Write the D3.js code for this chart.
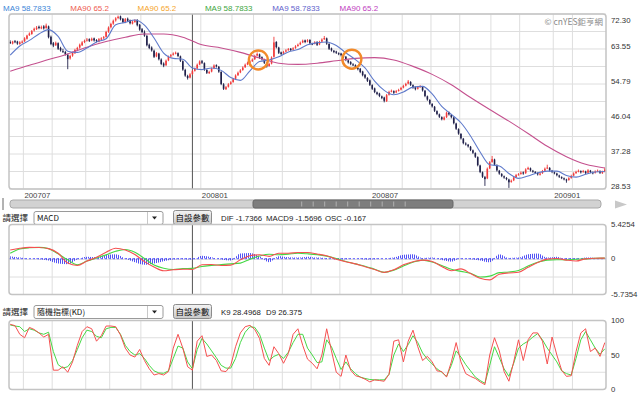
<!DOCTYPE html>
<html>
<head>
<meta charset="UTF-8">
<title></title>
<style>
  body { margin: 0; background: #fff; }
  svg { display: block; font-family: "Liberation Sans", Arial, sans-serif; }
  .cjk { font-family: "Noto Sans CJK TC", "Noto Sans CJK SC", sans-serif; }
</style>
</head>
<body>
<svg id="chart" width="640" height="397"></svg>
<script src="https://cdn.jsdelivr.net/npm/d3@7/dist/d3.min.js"></script>
<script>
// ---------- data ----------
var open = [
  65.3,64.9,65.5,65.4,64.8,65.1,65.5,66.1,67.0,67.3, 68.2,68.5,69.1,68.7,69.2,68.8,69.2,66.6,65.0,64.5,
  65.0,63.8,63.0,62.8,62.1,61.2,61.9,62.5,63.4,63.9, 64.5,65.3,65.7,66.0,65.7,66.2,65.8,65.4,65.9,66.3,
  66.6,67.9,69.0,69.9,70.7,71.3,71.7,71.1,70.2,71.1, 70.7,69.9,70.3,70.8,69.6,68.5,67.7,66.8,64.6,63.9,
  63.1,61.7,62.4,60.9,59.9,59.5,60.7,61.7,62.1,62.5, 62.5,61.7,60.5,58.3,56.8,56.4,57.3,58.1,58.7,59.7,
  60.5,60.0,58.3,57.5,57.9,58.7,59.5,59.1,57.8,54.7, 53.5,54.1,54.8,55.3,56.1,57.0,57.7,58.3,59.0,59.7,
  60.2,60.5,61.0,61.9,62.2,61.5,60.9,60.0,59.3,59.9, 61.6,65.3,63.9,62.7,62.4,62.9,63.3,63.6,63.4,63.8,
  64.3,64.7,65.2,65.7,65.4,65.8,64.9,64.9,65.3,64.7, 65.4,66.0,66.2,64.8,63.7,63.1,62.9,62.5,62.4,61.9,
  61.6,60.7,60.3,59.7,59.5,58.8,58.6,57.9,57.1,56.3, 55.7,54.5,53.7,52.7,52.4,51.7,51.4,50.5,52.1,52.9,
  53.0,52.7,53.1,53.4,53.9,54.4,54.9,55.3,54.5,54.0, 53.6,54.1,54.1,53.1,51.7,50.8,49.8,49.1,48.0,47.2,
  46.5,45.9,46.5,47.7,47.1,46.4,44.9,43.5,42.3,41.1, 39.9,39.6,39.1,38.2,37.5,36.5,34.4,32.7,31.5,31.2,
  33.7,35.3,35.9,34.5,33.1,32.3,31.7,31.3,30.9,30.3, 30.7,31.5,32.1,32.3,32.7,32.5,33.5,33.7,33.1,32.8,
  32.5,32.1,32.5,33.1,33.7,33.8,33.1,32.7,32.4,31.9, 31.5,31.2,30.9,30.8,31.3,31.9,32.5,32.9,33.0,32.8,
  32.9,32.6,33.1,32.7,32.6,33.0,33.0,32.5,32.9
];
var high = [
  65.7,65.6,65.8,65.6,65.5,65.7,66.5,67.1,67.7,68.3, 68.9,69.3,69.4,69.4,69.5,69.9,69.4,66.9,65.3,65.4,
  65.2,64.1,63.6,63.1,62.4,62.1,62.9,63.6,64.1,64.9, 65.5,65.9,66.3,66.2,66.4,66.4,66.0,66.3,66.5,66.8,
  68.1,69.2,70.1,70.9,71.5,71.9,71.9,71.3,71.3,71.4, 70.9,70.7,71.0,71.0,69.8,68.8,68.2,67.1,64.9,64.2,
  63.4,62.8,62.6,61.2,60.2,60.9,61.9,62.3,62.7,62.9, 62.7,61.9,60.7,58.6,57.1,57.5,58.3,58.9,59.9,60.7,
  60.8,60.2,58.5,58.1,58.9,59.7,59.7,59.3,58.0,55.0, 54.3,55.0,55.5,56.3,57.2,57.9,58.5,59.2,59.9,60.4,
  60.7,61.2,62.1,62.7,62.4,61.7,61.1,60.2,60.1,61.7, 66.6,65.5,64.1,62.9,63.1,63.5,63.8,63.8,64.0,64.5,
  64.9,65.4,65.9,65.9,66.0,66.0,65.1,65.5,65.5,65.6, 66.2,66.8,66.4,65.0,63.9,63.3,63.1,62.7,62.6,62.1,
  61.8,60.9,60.5,60.0,59.7,59.0,58.8,58.1,57.3,56.5, 55.9,54.7,53.9,52.9,52.6,51.9,51.6,52.3,53.1,53.4,
  53.2,53.3,53.6,54.1,54.6,55.1,55.8,55.5,54.7,54.2, 54.3,54.5,54.3,53.3,51.9,51.0,50.0,49.3,48.2,47.4,
  46.7,46.7,47.9,47.9,47.3,46.6,45.1,43.7,42.5,41.3, 40.2,39.8,39.3,38.4,37.7,36.7,34.6,32.9,31.8,33.9,
  35.5,36.8,36.1,34.7,33.3,32.5,31.9,31.5,31.1,30.9, 31.7,32.3,32.5,32.9,32.9,33.7,34.1,33.9,33.3,33.0,
  32.7,32.7,33.3,33.9,34.6,34.0,33.3,32.9,32.6,32.1, 31.7,31.4,31.1,31.5,32.1,32.7,33.1,33.4,33.2,33.3,
  33.1,33.5,33.3,32.9,33.2,33.4,33.2,33.1,33.9
];
var low = [
  64.8,64.7,65.0,64.6,64.6,64.9,65.3,65.9,66.8,67.1, 67.9,68.3,68.5,68.5,68.4,68.6,66.2,64.5,64.0,64.3,
  63.3,62.9,62.6,61.9,58.5,60.9,61.6,62.3,63.1,63.6, 64.3,65.0,65.4,65.3,65.5,65.4,65.2,65.2,65.7,66.0,
  66.4,67.6,68.7,69.6,70.4,71.0,70.7,70.0,70.0,70.3, 69.7,69.7,70.1,69.2,68.1,67.5,66.6,64.2,63.5,62.9,
  61.3,61.5,60.7,59.5,59.0,59.3,60.5,61.4,61.9,62.2, 61.5,60.3,58.1,56.6,55.9,56.2,57.1,57.9,58.5,59.5,
  59.8,58.1,57.3,57.3,57.7,58.5,58.9,57.6,54.5,53.3, 53.3,53.9,54.6,55.1,55.9,56.8,57.5,58.1,58.8,59.5,
  60.0,60.3,60.8,61.7,61.1,60.7,59.8,58.9,59.1,59.7, 61.4,63.7,62.3,62.0,62.2,62.7,63.1,63.0,63.2,63.6,
  64.1,64.5,65.0,65.0,65.2,64.7,64.5,64.7,64.3,64.5, 65.2,65.8,64.6,63.3,62.9,62.5,62.3,62.0,61.7,61.2,
  60.5,59.9,59.5,59.3,58.6,58.2,57.5,56.7,56.1,55.3, 54.3,53.3,52.5,52.0,51.5,51.0,50.2,50.3,51.9,52.7,
  52.3,52.5,52.9,53.2,53.7,54.2,54.7,54.3,53.6,53.2, 53.4,53.9,52.9,51.5,50.6,49.6,48.9,47.8,47.0,46.3,
  45.7,45.7,46.3,46.9,46.2,44.7,43.3,42.1,40.9,39.7, 39.4,38.9,38.0,37.3,36.3,34.2,32.5,31.3,29.3,31.0,
  33.5,35.1,34.3,32.9,32.1,31.5,31.1,30.7,28.8,30.1, 30.5,31.3,31.9,32.1,32.1,32.3,33.3,32.9,32.6,32.3,
  31.9,31.9,32.3,32.9,33.5,32.9,32.5,32.2,31.7,31.3, 31.0,30.7,30.1,30.6,31.1,31.7,32.3,32.7,32.4,32.6,
  32.2,32.4,32.5,32.2,32.4,32.8,32.3,32.3,32.7
];
var close = [
  65.0,65.4,65.3,64.9,65.2,65.4,66.2,66.9,67.4,68.0, 68.6,68.9,68.8,69.0,68.7,69.4,66.5,64.8,64.4,65.1,
  63.6,63.2,62.9,62.2,61.0,61.8,62.6,63.3,63.8,64.6, 65.2,65.6,65.9,65.6,66.1,65.7,65.5,66.0,66.2,66.5,
  67.8,68.9,69.8,70.6,71.2,71.6,71.0,70.3,71.0,70.6, 70.0,70.4,70.7,69.5,68.4,67.8,66.9,64.5,63.8,63.2,
  61.6,62.5,61.0,59.8,59.4,60.6,61.6,62.0,62.4,62.6, 61.8,60.6,58.4,56.9,56.3,57.2,58.0,58.6,59.6,60.4,
  60.1,58.4,57.6,57.8,58.6,59.4,59.2,57.9,54.8,53.6, 54.0,54.7,55.2,56.0,56.9,57.6,58.2,58.9,59.6,60.1,
  60.4,60.9,61.8,62.3,61.4,61.0,60.1,59.2,59.8,61.4, 65.2,64.0,62.6,62.3,62.8,63.2,63.5,63.3,63.7,64.2,
  64.6,65.1,65.6,65.3,65.7,65.0,64.8,65.2,64.6,65.3, 65.9,66.3,64.9,63.6,63.2,62.8,62.6,62.3,62.0,61.5,
  60.8,60.2,59.8,59.6,58.9,58.5,57.8,57.0,56.4,55.6, 54.6,53.6,52.8,52.3,51.8,51.3,50.6,52.0,52.8,53.1,
  52.6,53.0,53.3,53.8,54.3,54.8,55.4,54.6,53.9,53.5, 54.0,54.2,53.2,51.8,50.9,49.9,49.2,48.1,47.3,46.6,
  46.0,46.4,47.6,47.2,46.5,45.0,43.6,42.4,41.2,40.0, 39.7,39.2,38.3,37.6,36.6,34.5,32.8,31.6,31.0,33.6,
  35.2,36.0,34.6,33.2,32.4,31.8,31.4,31.0,30.2,30.6, 31.4,32.0,32.2,32.6,32.4,33.4,33.8,33.2,32.9,32.6,
  32.2,32.4,33.0,33.6,33.9,33.2,32.8,32.5,32.0,31.6, 31.3,31.0,30.7,31.2,31.8,32.4,32.8,33.1,32.7,33.0,
  32.5,33.2,32.8,32.5,32.9,33.1,32.6,32.8,33.4
];

// MA9: one value every 4 bars
var ma9 = [
  62.0,64.3,65.7,67.3,68.4,66.7,63.0,62.7,63.8,65.3, 66.1,69.6,70.2,70.8,69.5,66.3,62.5,61.2,61.0,58.8,
  58.4,58.8,58.2,56.4,55.7,58.1,60.4,60.8,61.6,62.8, 63.4,64.6,65.1,65.3,64.4,62.6,60.9,58.8,55.5,53.2,
  52.1,52.8,54.0,54.2,52.3,49.2,47.2,45.1,41.8,37.8, 34.6,34.3,32.4,31.2,31.8,32.6,33.0,33.0,31.9,31.5,
  32.2,32.8,32.9
];
// MA90: one value every 8 bars
var ma90 = [
  58.0,59.5,60.9,62.3,64.0,65.4,66.5,67.3,67.3,66.5, 64.6,63.8,62.7,61.3,60.0,59.7,60.0,60.6,61.2,61.4,
  60.8,59.2,57.2,54.6,51.4,48.4,45.5,42.4,39.2,36.6, 34.7,33.8
];

// MACD: one value every 4 bars
var dif = [
  1.37,1.64,1.78,1.75,1.58,0.85,-0.73,-1.10,-0.40,0.20, 1.00,1.64,1.35,0.65,-0.50,-1.35,-1.95,-1.80,-1.70,-1.74,
  -0.99,-0.95,-1.10,-1.05,-0.21,0.45,0.60,0.35,0.85,0.85, 0.95,0.95,0.72,0.43,-0.10,-0.50,-0.85,-1.30,-1.75,-2.20,
  -1.80,-1.00,-0.50,-0.25,-0.47,-1.26,-1.95,-1.65,-2.40,-3.15, -3.40,-2.50,-2.30,-2.20,-1.40,-0.65,-0.10,0.00,-0.25,-0.40,
  -0.05,0.05,0.06
];
var macd9 = [
  0.85,1.53,1.72,1.78,1.58,0.75,-0.21,-0.99,-0.40,0.10, 0.58,1.15,1.45,1.00,0.00,-1.05,-1.55,-1.75,-1.60,-1.57,
  -1.26,-1.10,-0.97,-0.85,-0.73,-0.10,0.40,0.68,0.60,0.70, 0.83,0.75,0.62,0.38,0.00,-0.47,-0.85,-1.22,-1.70,-2.20,
  -1.85,-1.20,-0.60,-0.25,-0.55,-1.10,-1.72,-2.05,-2.35,-2.95, -2.80,-2.25,-2.15,-1.90,-1.20,-0.60,-0.25,-0.20,-0.21,-0.12,
  -0.05,0.04,0.06
];
var osc = [
  0.35,0.15,0.0,-0.1,-0.3,-0.8,-0.9,-0.15,0.3,0.2, 0.6,0.7,0.0,-0.6,-1.0,-0.8,-0.45,-0.15,-0.1,-0.17,
  0.45,0.2,-0.15,-0.3,0.8,0.9,0.35,-0.6,0.35,0.2, 0.15,0.3,0.15,0.1,-0.15,-0.1,0.0,-0.15,-0.1,0.0,
  0.15,0.6,0.7,0.1,0.15,-0.25,-0.5,0.1,-0.1,-0.3, -0.6,0.7,0.1,0.15,0.7,0.8,0.15,0.3,-0.15,-0.15,
  0.15,0.1,0.03
];

// KD: one value every 2 bars
var kLine = [
  94.5,92.5,80,75,90,87,82,76,80,28, 28,33,25,40,64,84,91,88,70,78,
  92,92,91,79,60,50,47,58,42,30, 21,23,21,26,60,80,60,33,28,70,
  78,48,50,42,27,26,35,62,82,91, 93,87,74,45,35,62,52,38,52,80,
  88,64,44,38,30,50,88,56,25,19, 50,28,20,18,15,11,14,13,12,22,
  70,72,40,70,86,62,42,48,40,27, 26,18,40,68,40,23,19,16,11,7,
  50,75,56,26,12,40,72,42,72,82, 82,70,37,76,50,28,19,20,55,82,
  88,55,60,48,68
];
var dLine = [
  93.5,92,91,84,88,86,82,80,83,55, 36,31,33,42,58,75,86,84,77,75,
  88,90,90,80,64,55,50,52,45,35, 27,24,23.5,27,45,63,60,40,30,58,
  74,66,56,46,35,31,31,45,68,83, 91,90,80,60,42,48,51,45,54,68,
  80,80,60,50,39,40,72,62,45,29, 40,30,23,18,16,14.5,14,14,14,22,
  50,66,55,65,78,68,53,44,37,30, 25,19,35,56,47,36,27,18,13,9,
  35,62,46,30,19,38,60,66,70,76, 81,72,60,50,40,27,23,21,45,72,
  84,72,60,51,59
];

// months: bar index where each month starts
var monthStart = [6, 18, 32, 42, 55, 68, 80, 93, 102, 114, 126, 138, 151, 164, 176, 188, 201, 213, 227, 235];
var labelIdx = [6, 80, 151, 227];
var labelText = ["200707", "200801", "200807", "200901"];

var priceTicks = [28.53, 37.28, 46.04, 54.79, 63.55, 72.30];
var macdTicks = [5.4254, 0, -5.7354];
var kdTicks = [100, 50, 0];

var cursorIdx = 76;
var crossIdx = [103.5, 142.5];
var crossVal = [60.8, 61.0];

var legendText = ["MA9 58.7833", "MA90 65.2", "MA90 65.2", "MA9 58.7833", "MA9 58.7833", "MA90 65.2"];
var legendColor = ["#3d86d8", "#ee5b4f", "#f5a52a", "#3ea63e", "#6262cc", "#c03cc0"];

// ---------- drawing ----------
var svg = d3.select("#chart");
var upColor = "#f23a3a", downColor = "#20204a";

var x = d3.scaleLinear().domain([-0.5, close.length - 0.5]).range([9, 606]);
var yMain = d3.scaleLinear().domain([28.53, 72.30]).range([189, 14]);
var yMacd = d3.scaleLinear().domain([-5.7354, 5.4254]).range([294.5, 224.5]);
var yKd = d3.scaleLinear().domain([0, 100]).range([389.5, 320.5]);

var defs = svg.append("defs");
var hatch = defs.append("pattern").attr("id", "hatch").attr("patternUnits", "userSpaceOnUse")
  .attr("width", 2).attr("height", 2);
hatch.append("rect").attr("width", 1).attr("height", 2).attr("fill", "#3535f2");

var btnGrad = defs.append("linearGradient").attr("id", "btnGrad").attr("x1", 0).attr("y1", 0).attr("x2", 0).attr("y2", 1);
btnGrad.append("stop").attr("offset", "0%").attr("stop-color", "#f4f4f4");
btnGrad.append("stop").attr("offset", "100%").attr("stop-color", "#c9c9c9");

function panel(id, top, bottom, gridYs) {
  defs.append("clipPath").attr("id", id).append("rect")
    .attr("x", 9).attr("y", top).attr("width", 597).attr("height", bottom - top);
  var g = svg.append("g");
  g.append("rect").attr("x", 9).attr("y", top).attr("width", 597).attr("height", bottom - top)
    .attr("fill", "#fff");
  g.selectAll("line.h").data(gridYs).join("line")
    .attr("x1", 9).attr("x2", 606).attr("y1", d => d).attr("y2", d => d)
    .attr("stroke", "#dedede").attr("stroke-width", 1);
  g.selectAll("line.v").data(monthStart).join("line")
    .attr("x1", d => x(d - 0.5)).attr("x2", d => x(d - 0.5))
    .attr("y1", top).attr("y2", bottom)
    .attr("stroke", "#dedede").attr("stroke-width", 1);
  g.append("line")
    .attr("x1", x(cursorIdx)).attr("x2", x(cursorIdx)).attr("y1", top).attr("y2", bottom)
    .attr("stroke", "#555").attr("stroke-width", 1);
  return g;
}

function border(top, bottom) {
  svg.append("rect").attr("x", 9).attr("y", top).attr("width", 597).attr("height", bottom - top)
    .attr("rx", 3).attr("fill", "none").attr("stroke", "#c4c4c4").attr("stroke-width", 1.5);
}

// ---- legend ----
svg.selectAll("text.legend").data(legendText).join("text")
  .attr("x", (d, i) => 3 + i * 67.3).attr("y", 10.5)
  .attr("font-size", 8).attr("fill", (d, i) => legendColor[i])
  .text(d => d);

// ---- main panel ----
var gridMain = [];
priceTicks.forEach(function(v, i) {
  gridMain.push(yMain(v));
  if (i > 0) gridMain.push(yMain((v + priceTicks[i - 1]) / 2));
});
var gMain = panel("clipMain", 14, 189, gridMain);
var plotMain = gMain.append("g").attr("clip-path", "url(#clipMain)");

plotMain.append("g").selectAll("line").data(close).join("line")
  .attr("x1", (d, i) => x(i)).attr("x2", (d, i) => x(i))
  .attr("y1", (d, i) => yMain(high[i])).attr("y2", (d, i) => yMain(low[i]))
  .attr("stroke", (d, i) => close[i] >= open[i] ? upColor : downColor)
  .attr("stroke-width", 0.9);
plotMain.append("g").selectAll("rect").data(close).join("rect")
  .attr("x", (d, i) => x(i) - 0.8).attr("width", 1.6)
  .attr("y", (d, i) => yMain(Math.max(open[i], close[i])))
  .attr("height", (d, i) => Math.max(1, Math.abs(yMain(open[i]) - yMain(close[i]))))
  .attr("fill", (d, i) => close[i] >= open[i] ? upColor : downColor);

plotMain.append("path").datum(ma90)
  .attr("d", d3.line().x((d, k) => x(k * 8)).y(d => yMain(d)).curve(d3.curveMonotoneX))
  .attr("fill", "none").attr("stroke", "#c4508e").attr("stroke-width", 1.1);
plotMain.append("path").datum(ma9)
  .attr("d", d3.line().x((d, k) => x(k * 4)).y(d => yMain(d)).curve(d3.curveMonotoneX))
  .attr("fill", "none").attr("stroke", "#5f7acb").attr("stroke-width", 1.1);

svg.selectAll("circle.cross").data(crossIdx).join("circle")
  .attr("cx", d => x(d)).attr("cy", (d, i) => yMain(crossVal[i])).attr("r", 9.5)
  .attr("fill", "none").attr("stroke", "#f28a2a").attr("stroke-width", 2.4);

svg.append("text").attr("class", "cjk").attr("x", 603).attr("y", 25)
  .attr("text-anchor", "end").attr("font-size", 8.5).attr("fill", "#8a8a8a")
  .text("© cnYES鉅亨網");
border(14, 189);

svg.selectAll("text.ptick").data(priceTicks).join("text")
  .attr("x", 611).attr("y", d => Math.max(yMain(d), 23))
  .attr("font-size", 7.8).attr("fill", "#333")
  .text(d => d.toFixed(2));

svg.selectAll("text.month").data(labelIdx).join("text")
  .attr("x", d => x(d - 0.5) + 1).attr("y", 198)
  .attr("font-size", 7.8).attr("fill", "#444")
  .text((d, i) => labelText[i]);

// ---- scrollbar ----
svg.append("line").attr("x1", 3).attr("x2", 3).attr("y1", 198).attr("y2", 210)
  .attr("stroke", "#666").attr("stroke-width", 1);
svg.append("rect").attr("x", 10).attr("y", 200).attr("width", 591).attr("height", 8).attr("rx", 3)
  .attr("fill", "#d2d2d2").attr("stroke", "#a9a9a9");
svg.append("rect").attr("x", 253).attr("y", 200).attr("width", 200).attr("height", 8).attr("rx", 2)
  .attr("fill", "#7e7e7e").attr("stroke", "#666");
svg.selectAll("line.thumb").data(d3.range(10)).join("line")
  .attr("x1", d => 301.7 + d * 11.5).attr("x2", d => 301.7 + d * 11.5)
  .attr("y1", 201.5).attr("y2", 206.5).attr("stroke", "#b0b0b0");
svg.append("path").attr("d", "M615,200.5 L627,204.5 L615,208.5 Z").attr("fill", "#c8c8c8");

// ---- selector rows ----
function selector(yc, label, valueTexts, valueX) {
  svg.append("text").attr("class", "cjk").attr("x", 2.5).attr("y", yc + 3)
    .attr("font-size", 8.5).attr("fill", "#222").text("請選擇");
  svg.append("rect").attr("x", 34).attr("y", yc - 6).attr("width", 129).attr("height", 13).attr("rx", 2)
    .attr("fill", "#fff").attr("stroke", "#9a9a9a");
  svg.append("line").attr("x1", 147.5).attr("x2", 147.5).attr("y1", yc - 5.5).attr("y2", yc + 6.5)
    .attr("stroke", "#c8c8c8");
  svg.append("path").attr("d", "M152," + (yc - 1) + " L157," + (yc - 1) + " L154.5," + (yc + 2) + " Z")
    .attr("fill", "#222");
  svg.append("text").attr("class", "cjk").attr("x", 37).attr("y", yc + 3)
    .attr("font-size", 8).attr("fill", "#111").text(label);
  svg.append("rect").attr("x", 173.5).attr("y", yc - 7).attr("width", 38).attr("height", 14).attr("rx", 2)
    .attr("fill", "url(#btnGrad)").attr("stroke", "#8c8c8c");
  svg.append("text").attr("class", "cjk").attr("x", 192.5).attr("y", yc + 3)
    .attr("text-anchor", "middle").attr("font-size", 8.5).attr("fill", "#111").text("自設參數");
  svg.selectAll(null).data(valueTexts).join("text")
    .attr("x", (d, i) => valueX[i]).attr("y", yc + 3)
    .attr("font-size", 7.8).attr("fill", "#222").text(d => d);
}
selector(217.5, "MACD", ["DIF -1.7366", "MACD9 -1.5696", "OSC -0.167"], [221, 266, 325]);
selector(311.5, "隨機指標(KD)", ["K9 28.4968", "D9 26.375"], [221, 266]);

// ---- MACD panel ----
var gMacd = panel("clipMacd", 224.5, 294.5, [242, 259.5, 277]);
var plotMacd = gMacd.append("g").attr("clip-path", "url(#clipMacd)");
plotMacd.append("line").attr("x1", 9).attr("x2", 606).attr("y1", yMacd(0)).attr("y2", yMacd(0))
  .attr("stroke", "#7d7dff").attr("stroke-width", 1.3).attr("stroke-dasharray", "2,2");
plotMacd.append("path").datum(osc)
  .attr("d", d3.area().x((d, k) => x(k * 4)).y0(yMacd(0)).y1(d => yMacd(d)).curve(d3.curveMonotoneX))
  .attr("fill", "url(#hatch)").attr("opacity", 0.85);
plotMacd.append("path").datum(macd9)
  .attr("d", d3.line().x((d, k) => x(k * 4)).y(d => yMacd(d)).curve(d3.curveMonotoneX))
  .attr("fill", "none").attr("stroke", "#45d845").attr("stroke-width", 1.1);
plotMacd.append("path").datum(dif)
  .attr("d", d3.line().x((d, k) => x(k * 4)).y(d => yMacd(d)).curve(d3.curveMonotoneX))
  .attr("fill", "none").attr("stroke", "#f55050").attr("stroke-width", 1.1);
border(224.5, 294.5);
svg.selectAll("text.mtick").data(macdTicks).join("text")
  .attr("x", 611).attr("y", d => yMacd(d) + 2.8)
  .attr("font-size", 7.8).attr("fill", "#333").text(d => d);

// ---- KD panel ----
var gKd = panel("clipKd", 320.5, 389.5, [yKd(25), yKd(50), yKd(75)]);
var plotKd = gKd.append("g").attr("clip-path", "url(#clipKd)");
plotKd.append("path").datum(dLine)
  .attr("d", d3.line().x((d, k) => x(k * 2)).y(d => yKd(d)))
  .attr("fill", "none").attr("stroke", "#45d845").attr("stroke-width", 1);
plotKd.append("path").datum(kLine)
  .attr("d", d3.line().x((d, k) => x(k * 2)).y(d => yKd(d)))
  .attr("fill", "none").attr("stroke", "#f55050").attr("stroke-width", 1);
border(320.5, 389.5);
svg.selectAll("text.ktick").data(kdTicks).join("text")
  .attr("x", 611).attr("y", d => yKd(d) + 2.8)
  .attr("font-size", 7.8).attr("fill", "#333").text(d => d);
</script>
</body>
</html>
